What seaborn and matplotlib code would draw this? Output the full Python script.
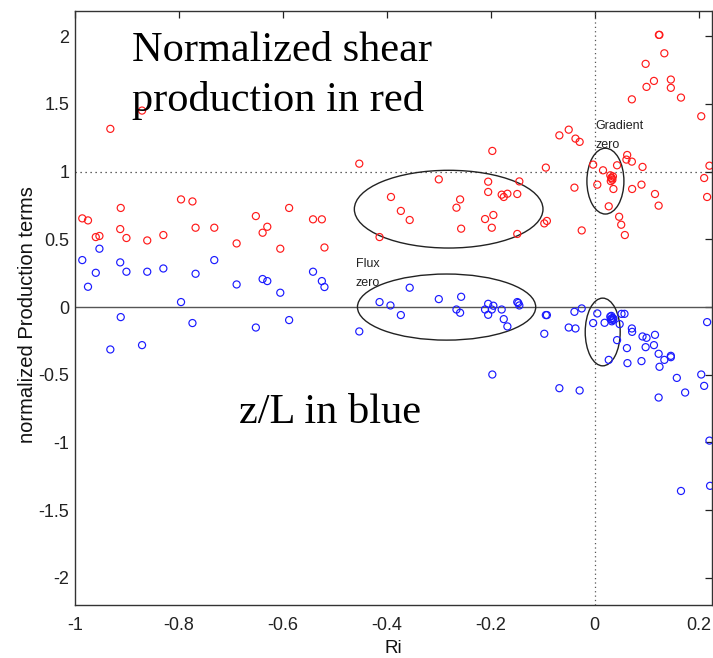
import matplotlib
matplotlib.use("Agg")
import matplotlib.pyplot as plt
from matplotlib.patches import Ellipse
import seaborn as sns
import pandas as pd

# ---- data ----
ri_red = [-0.986, -0.975, -0.96, -0.953, -0.932, -0.912, -0.913, -0.901, -0.871, -0.861,
          -0.830, -0.796, -0.774, -0.768, -0.732, -0.689, -0.652, -0.639, -0.630, -0.605,
          -0.588, -0.542, -0.525, -0.520, -0.453, -0.414, -0.392, -0.373, -0.356, -0.30,
          -0.266, -0.259, -0.257, -0.211, -0.205, -0.205, -0.197, -0.195, -0.198, -0.179,
          -0.175, -0.168, -0.149, -0.145, -0.149, -0.097, -0.092, -0.094, -0.068, -0.050,
          -0.037, -0.029, -0.039, -0.025, -0.003, 0.005, 0.016, 0.027, 0.030, 0.032,
          0.034, 0.031, 0.035, 0.033, 0.036, 0.043, 0.047, 0.051, 0.058, 0.0625,
          0.061, 0.0715, 0.072, 0.0715, 0.090, 0.092, 0.098, 0.0997, 0.114, 0.116,
          0.123, 0.1235, 0.1245, 0.134, 0.1465, 0.1465, 0.166, 0.205, 0.2106, 0.2208,
          0.2163]
prod_red = [0.655, 0.64, 0.517, 0.525, 1.316, 0.732, 0.576, 0.51, 1.451, 0.492,
            0.532, 0.795, 0.78, 0.586, 0.586, 0.47, 0.672, 0.549, 0.593, 0.431,
            0.732, 0.648, 0.648, 0.44, 1.059, 0.517, 0.813, 0.71, 0.643, 0.943,
            0.734, 0.795, 0.579, 0.65, 0.926, 0.85, 1.153, 0.68, 0.586, 0.83,
            0.813, 0.837, 0.835, 0.928, 0.54, 0.618, 0.636, 1.03, 1.268, 1.31,
            1.244, 1.22, 0.882, 0.566, 1.052, 0.904, 1.01, 0.744, 0.973, 0.955,
            0.94, 0.93, 0.965, 0.95, 0.872, 1.047, 0.667, 0.608, 0.532, 1.123,
            1.089, 1.074, 0.872, 1.534, 0.904, 1.035, 1.796, 1.626, 1.67, 0.835,
            0.749, 2.01, 2.01, 1.874, 1.68, 1.619, 1.547, 1.409, 0.953, 1.044,
            0.813]

ri_blue = [-0.986, -0.975, -0.96, -0.953, -0.932, -0.913, -0.912, -0.901, -0.871, -0.861,
           -0.830, -0.796, -0.774, -0.768, -0.732, -0.689, -0.652, -0.639, -0.630, -0.605,
           -0.588, -0.542, -0.525, -0.520, -0.453, -0.414, -0.393, -0.373, -0.356, -0.30,
           -0.266, -0.259, -0.257, -0.211, -0.205, -0.205, -0.198, -0.195, -0.197, -0.179,
           -0.175, -0.168, -0.149, -0.147, -0.145, -0.097, -0.094, -0.092, -0.068, -0.050,
           -0.039, -0.037, -0.029, -0.025, -0.003, 0.005, 0.019, 0.027, 0.030, 0.032,
           0.034, 0.031, 0.035, 0.036, 0.033, 0.043, 0.048, 0.0516, 0.0573, 0.062,
           0.063, 0.0715, 0.072, 0.090, 0.092, 0.098, 0.0997, 0.114, 0.116, 0.123,
           0.1247, 0.123, 0.134, 0.1465, 0.1465, 0.158, 0.166, 0.174, 0.205, 0.2106,
           0.2163, 0.2208, 0.222]
zl_blue = [0.347, 0.15, 0.253, 0.431, -0.313, 0.33, -0.074, 0.261, -0.281, 0.261,
           0.285, 0.037, -0.118, 0.246, 0.347, 0.167, -0.151, 0.207, 0.192, 0.106,
           -0.096, 0.261, 0.192, 0.148, -0.18, 0.037, 0.012, -0.059, 0.143, 0.059,
           -0.018, -0.042, 0.076, -0.018, 0.024, -0.057, -0.018, 0.01, -0.498, -0.018,
           -0.089, -0.143, 0.037, 0.03, 0.012, -0.197, -0.059, -0.059, -0.599, -0.151,
           -0.035, -0.158, -0.616, -0.01, -0.118, -0.047, -0.116, -0.39, -0.07, -0.065,
           -0.08, -0.09, -0.095, -0.085, -0.105, -0.244, -0.126, -0.05, -0.05, -0.303,
           -0.414, -0.158, -0.183, -0.399, -0.217, -0.296, -0.227, -0.281, -0.205, -0.345,
           -0.441, -0.668, -0.39, -0.36, -0.37, -0.523, -1.358, -0.631, -0.498, -0.582,
           -0.111, -0.986, -1.32]

x_ticks = [-1, -0.8, -0.6, -0.4, -0.2, 0, 0.2]
x_tick_labels = ["-1", "-0.8", "-0.6", "-0.4", "-0.2", "0", "0.2"]
y_ticks = [-2, -1.5, -1, -0.5, 0, 0.5, 1, 1.5, 2]
y_tick_labels = ["-2", "-1.5", "-1", "-0.5", "0", "0.5", "1", "1.5", "2"]

# ellipses: (center x, center y, width, height)
ellipse_specs = [(-0.281, 0.723, 0.363, 0.574),
                 (-0.285, 0.0, 0.343, 0.488),
                 (0.0206, 0.930, 0.0712, 0.486),
                 (0.0154, -0.184, 0.0673, 0.50)]

red_df = pd.DataFrame({"Ri": ri_red, "val": prod_red})
blue_df = pd.DataFrame({"Ri": ri_blue, "val": zl_blue})

sns.set_style("white")
plt.rcParams["font.family"] = ["Liberation Sans", "DejaVu Sans"]

fig = plt.figure(figsize=(7.13, 6.58), dpi=100)
ax = fig.add_axes([75 / 713, 1 - 605 / 658, 637 / 713, 594.5 / 658])

ax.axhline(0, color="#555555", lw=1.0, zorder=1)
ax.axhline(1, color="#333333", lw=0.9, ls=(0, (1, 3)), zorder=1)
ax.axvline(0, color="#555555", lw=0.9, ls=(0, (1, 2.5)), zorder=1)

sns.scatterplot(data=red_df, x="Ri", y="val", ax=ax, marker="o", s=26,
                facecolor="none", edgecolor="#ff1a1a", linewidth=0.85, zorder=3)
sns.scatterplot(data=blue_df, x="Ri", y="val", ax=ax, marker="o", s=26,
                facecolor="none", edgecolor="#1a1aff", linewidth=0.85, zorder=3)

for cx, cy, w, h in ellipse_specs:
    ax.add_patch(Ellipse((cx, cy), w, h, fill=False, edgecolor="#222222", lw=1.0, zorder=2))

ax.set_xlim(-1, 0.2257)
ax.set_ylim(-2.2, 2.19)
ax.set_xticks(x_ticks)
ax.set_xticklabels(x_tick_labels)
ax.set_yticks(y_ticks)
ax.set_yticklabels(y_tick_labels)
ax.tick_params(direction="in", length=5, width=0.9, top=True, right=True,
               labelsize=13, colors="#222222")
ax.tick_params(axis="x", pad=9)
ax.tick_params(axis="y", pad=4)
for sp in ax.spines.values():
    sp.set_color("#333333")
    sp.set_linewidth(1.0)

ax.set_xlabel("Ri", fontsize=13.5, labelpad=4, color="#111111")
ax.set_ylabel("normalized Production terms", fontsize=14.5, labelpad=1, color="#111111")
ax.yaxis.label.set_y(0.488)

serif = ["Liberation Serif", "DejaVu Serif"]
ax.text(-0.89, 1.815, "Normalized shear", fontsize=30.5, family=serif,
        ha="left", va="baseline", color="black")
ax.text(-0.89, 1.45, "production in red", fontsize=30.5, family=serif,
        ha="left", va="baseline", color="black")
ax.text(-0.685, -0.857, "z/L in blue", fontsize=30.5, family=serif,
        ha="left", va="baseline", color="black")

ax.text(0.001, 1.335, "Gradient", fontsize=9, ha="left", va="center", color="#222222")
ax.text(0.001, 1.195, "zero", fontsize=9, ha="left", va="center", color="#222222")
ax.text(-0.46, 0.318, "Flux", fontsize=9, ha="left", va="center", color="#222222")
ax.text(-0.46, 0.177, "zero", fontsize=9, ha="left", va="center", color="#222222")

fig.savefig("out.png", dpi=100)
